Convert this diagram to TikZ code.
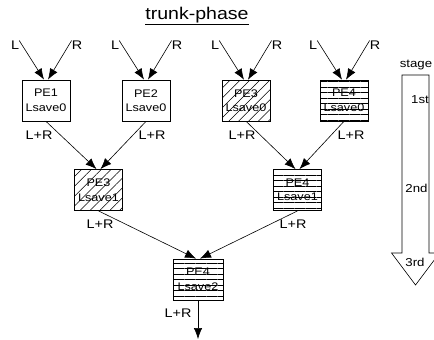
\documentclass[tikz,border=0pt]{standalone}
\usepackage{fontspec}
\setmainfont{Liberation Sans}[FakeStretch=1.15]
\usetikzlibrary{arrows.meta,patterns.meta}
\tikzset{
  pebox/.style={draw, line width=0.8pt, minimum width=48pt, minimum height=41pt, inner sep=0pt, align=center, font=\fontsize{11}{14.5}\selectfont},
  hatchd/.style={pattern={Lines[angle=45,distance=7pt,line width=0.5pt]}},
  hatchh/.style={pattern={Lines[angle=0,distance=5.5pt,line width=0.6pt]}},
  lab/.style={font=\fontsize{12.5}{14}\selectfont, inner sep=0pt},
  slab/.style={font=\fontsize{11.5}{13}\selectfont, inner sep=0pt},
  conn/.style={draw, line width=0.6pt, -{Latex[length=11pt,width=8.5pt]}},
  stagearrow/.style={draw, line width=0.6pt}
}
\begin{document}
\begin{tikzpicture}[x=1pt,y=-1pt]
\clip (0,0) rectangle (434,340);
\fill[white] (0,0) rectangle (434,340);
% title
\node[font=\fontsize{17}{20}\selectfont, inner sep=0pt] (title) at (197,16) {\underline{trunk-phase}};
% top row
\node[pebox] (b1) at (46,100.5) {PE1\\Lsave0};
\node[pebox] (b2) at (146,100.5) {PE2\\Lsave0};
\node[pebox,hatchd] (b3) at (246,100.5) {PE3\\Lsave0};
\node[pebox,hatchh] (b4) at (344,100.5) {PE4\\Lsave0};
% inputs
\foreach \i/\cx in {1/46,2/146,3/246,4/344}{
  \node[lab] (l\i) at (\cx-31,45) {L};
  \node[lab] (r\i) at (\cx+31,45) {R};
  \draw[conn] (l\i.north east) -- ([xshift=-2pt]b\i.north);
  \draw[conn] (r\i.north west) -- ([xshift=2pt]b\i.north);
}
% second row
\node[pebox,hatchd] (c1) at (98.5,190) {PE3\\Lsave1};
\node[pebox,hatchh] (c2) at (297.5,190) {PE4\\Lsave1};
\node[lab] (s1) at (39,135) {L+R};
\node[lab] (s2) at (152,135) {L+R};
\node[lab] (s3) at (242,135) {L+R};
\node[lab] (s4) at (351,135) {L+R};
\draw[conn] (b1.south) -- ([xshift=-2pt]c1.north);
\draw[conn] (b2.south) -- ([xshift=2pt]c1.north);
\draw[conn] (b3.south) -- ([xshift=-2pt]c2.north);
\draw[conn] (b4.south) -- ([xshift=2pt]c2.north);
% third row
\node[pebox,hatchh,minimum width=50pt] (d1) at (198,279.5) {PE4\\Lsave2};
\node[lab] (t1) at (100,224) {L+R};
\node[lab] (t2) at (293,224) {L+R};
\draw[conn] (c1.south) -- ([xshift=-2pt]d1.north);
\draw[conn] (c2.south) -- ([xshift=2pt]d1.north);
\node[lab] (u1) at (178,313) {L+R};
\coordinate (out) at (198,339);
\draw[conn] (d1.south) -- (out);
% stage arrow
\draw[stagearrow] (402,75) -- (402,253) -- (391.5,253) -- (415.5,285) -- (439.5,253) -- (429,253) -- (429,75) -- cycle;
\node[slab] (st) at (416,65) {stage};
\node[slab] (st1) at (420,100) {1st};
\node[slab] (st2) at (416.5,188) {2nd};
\node[slab] (st3) at (415,262) {3rd};
\end{tikzpicture}
\end{document}
